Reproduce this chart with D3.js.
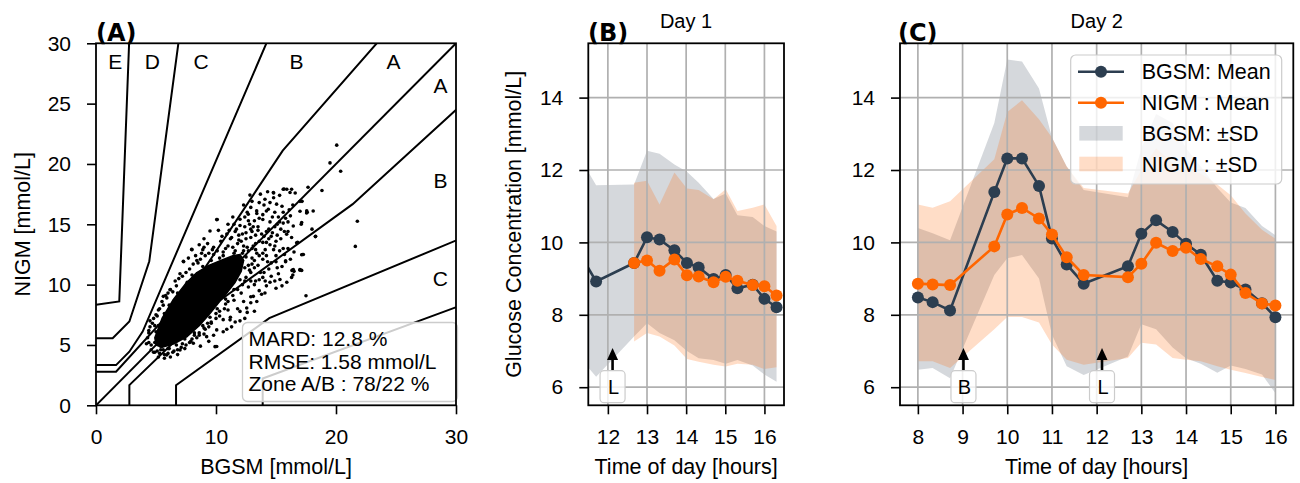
<!DOCTYPE html>
<html><head><meta charset="utf-8">
<script src="https://cdn.jsdelivr.net/npm/d3@7"></script>
<style>
body{margin:0;background:#fff}
svg{display:block}
text{font-family:"Liberation Sans",Arial,Helvetica,sans-serif}
</style>
</head><body>
<svg id="chart" width="1300" height="483"></svg>
<script>
// ---------------- DATA ----------------
// Panel A : Parkes error grid boundaries (mmol/L)
const gridLineD_up = [[0,8.33],[1.94,8.61],[2.78,30.56]];
const gridLineC_up = [[0,5.56],[1.39,5.56],[2.78,6.94],[4.44,11.94],[6.94,30.56]];
const gridLineB_up = [[0,3.33],[1.67,3.33],[2.78,4.44],[3.89,6.11],[14.44,30.56]];
const gridLineA_up = [[0,2.78],[1.67,2.78],[7.78,9.44],[15.56,21.11],[23.89,30.56]];
const gridLineIdent = [[0,0],[30,30]];
const gridLineA_lo = [[2.78,0],[2.78,1.67],[9.44,8.06],[21.39,16.67],[30.56,25]];
const gridLineB_lo = [[6.67,0],[6.67,1.67],[14.44,7.22],[30.56,13.89]];
const gridLineC_lo = [[13.89,0],[13.89,2.22],[30.56,8.33]];
const zoneLabels = ["E","D","C","B","A","A","B","C"];
const zoneLabelX = [1.6,4.7,8.75,16.7,24.8,28.7,28.7,28.7];
const zoneLabelY = [28.5,28.5,28.5,28.5,28.5,26.5,18.6,10.5];
const axisATicksX = [0,10,20,30];
const axisATicksY = [0,5,10,15,20,25,30];
// dense core of the scatter (outline of the solid region, mmol/L)
const scatterCore = [[4.9,5.6],[5.5,7.2],[6.4,8.7],[7.4,10.0],[8.4,11.0],[9.4,11.6],[10.4,12.0],[11.4,12.4],[12.0,12.5],[12.3,12.0],[12.1,11.1],[11.6,10.2],[10.9,9.3],[10.3,8.6],[9.5,7.6],[8.6,6.6],[7.6,5.7],[6.5,5.1],[5.5,4.8],[5.0,5.0]];
// individual points (BGSM, NIGM)
const scatterPoints = [
[20.06,21.56],[19.5,20.09],[20.39,19.4],[18.83,17.8],[17.67,18.07],[21.78,15.25],[21.61,13.17],[18.28,13.98],[18.0,14.6],[17.5,9.08],[10.06,4.87],[10.06,15.39],[17.0,16.08],[17.17,16.9],[16.3,17.9],[15.6,17.9],[14.8,17.6],[17.14,12.48],[17.14,11.18],[16.33,11.18],[16.4,10.8],[15.8,11.98],[18.1,16.1],[17.55,15.94],
[12.83,17.42],[14.78,17.64],[15.67,17.92],[16.17,17.64],[15.05,16.67],[14.08,17.08],[14.36,16.25],[13.39,16.11],[12.69,15.83],[12.0,15.42],[9.5,14.44],[7.97,12.92],[7.28,11.94],[6.17,9.58],[5.61,9.03],[17.56,16.11],[17.14,15.14],[16.44,14.86],[15.89,14.17],[16.72,13.47],[17.28,12.5],[17.0,11.25],[16.44,11.25],[15.33,10.42],[14.08,9.31],[13.11,9.03],[12.56,8.06],[12.0,7.78],[11.17,7.08],[10.06,6.25],[9.22,5.69],[8.11,5.14],[7.0,4.58],[5.89,4.17],[9.92,4.86],
[11.2,13.8],[11.6,14.4],[12.0,14.9],[12.3,13.2],[12.5,14.3],[12.7,15.3],[12.9,16.4],[13.1,14.8],[13.3,13.4],[13.4,15.9],[13.6,16.8],[13.8,14.2],[13.9,15.4],[14.1,12.9],[14.2,16.1],[14.4,14.6],[14.5,13.3],[14.7,15.6],[14.8,17.2],[15.0,12.4],[15.1,14.1],[15.3,15.2],[15.5,16.5],[15.6,13.0],[15.8,11.9],[16.0,14.4],[16.2,15.7],[16.5,12.7],[13.0,12.2],[12.2,12.0],[12.8,11.2],[13.5,11.6],[14.0,11.0],[14.6,11.8],[15.2,10.9],[16.8,13.5],[11.8,11.0],[12.4,10.3],[13.2,10.0],[11.5,12.6],[10.8,13.0],[10.5,14.0],[11.0,15.0],[12.6,16.0],[13.7,17.5],[14.3,17.7],[15.3,17.4],[16.4,16.6],[17.0,16.9],[16.6,17.6],[15.9,17.9],
[10.0,7.6],[10.6,7.1],[11.2,7.3],[11.8,8.0],[12.3,8.6],[12.9,9.0],[13.6,9.5],[14.2,9.9],[14.9,10.3],[9.4,6.5],[9.0,5.9],[8.4,5.6],[7.8,5.2],[7.1,4.8],[6.5,4.5],[6.0,4.3],[5.6,4.6],[10.9,6.3],[12.6,7.7],[13.4,8.6],[15.5,9.9],[16.3,10.6],[16.5,11.1],[17.0,11.2],[17.2,12.5],[18.3,14.0],[17.1,15.0],[17.6,16.0],
[4.5,6.5],[4.8,7.2],[5.2,7.9],[5.5,8.6],[5.8,9.1],[6.2,9.6],[6.6,10.3],[7.0,10.9],[7.3,11.9],[7.7,12.2],[8.0,12.9],[8.5,11.8],[9.0,13.1],[10.1,15.4],[8.8,12.6],[9.7,12.9],[10.3,12.2],[5.0,6.1],[4.3,5.6],[4.6,5.0],[5.1,4.5],[5.4,4.9],[4.2,5.1],[4.5,7.0],[4.4,6.2],[4.8,4.4],[5.2,4.0],[5.7,3.9],[4.9,6.6],[5.1,7.4],
[8.3,12.4],[8.9,12.9],[9.3,13.4],[9.8,13.1],[10.4,13.6],[10.9,14.2],[11.3,13.9],[11.7,14.6],[10.2,14.5],[9.0,13.8],[8.6,13.3],[11.9,13.7],[12.2,14.2],[12.4,14.8],[11.5,15.0],[12.8,15.0],
[13.0,14.4],[13.5,14.8],[13.9,15.8],[14.5,15.2],[14.9,16.0],[15.2,15.6],[15.6,15.1],[16.0,15.2],[16.1,16.2],[14.6,14.0],[15.0,13.6],[15.4,13.8],[14.8,12.9],[15.7,12.5],[16.2,12.1],[13.9,12.6],[14.3,11.9],[13.7,11.0],[14.6,10.7],[15.1,11.4],[13.2,12.0],[13.6,13.6],[14.0,14.0],[14.2,13.5],
[10.8,8.4],[11.5,8.7],[12.1,9.3],[12.7,9.8],[13.3,10.3],[13.9,10.6],[14.5,10.2],[11.0,7.9],[10.3,7.4],[9.6,6.8],[9.1,6.3],[8.6,5.8],[8.0,5.5],[12.9,8.5],[13.8,9.2],[15.0,9.7],[15.9,10.2],[12.4,7.2],[11.6,6.9],[10.6,6.1],[9.4,5.3],[8.7,4.9],[7.4,4.7],[6.8,4.2],[6.2,4.0],[9.8,5.8],[11.3,6.5],[12.0,7.0],[13.2,7.8],
[4.4,6.0],[4.7,6.8],[5.0,7.5],[5.3,8.0],[5.6,8.3],[5.9,8.9],[6.0,9.3],[6.4,9.4],[6.7,9.9],[6.9,10.5],[7.2,10.7],[7.5,11.0],[7.8,11.3],[8.1,11.7],[8.4,12.0],[8.7,12.1],[9.1,12.4],[9.4,12.6],[9.8,12.5],[10.1,12.8],[10.6,12.7],[11.0,13.2],[11.4,13.1],[11.8,13.4],[12.1,13.6],[12.5,13.8],[12.9,13.9],[13.3,14.1],[13.5,14.5],[13.1,13.2],[13.4,12.6],[13.0,11.7],[12.9,11.0],
[12.7,11.6],[12.5,10.6],[12.2,10.0],[11.8,9.6],[11.4,9.1],[11.0,8.6],[10.7,8.0],[10.3,7.8],[10.0,7.2],[9.6,6.9],[9.3,6.8],[9.0,6.4],[8.6,6.0],[8.2,5.8],[7.9,5.3],[7.5,5.0],[7.2,5.1],[6.8,4.6],[6.4,4.4],[6.1,4.7],[5.7,4.2],[5.3,4.3],[4.9,4.4],[4.6,4.6],[4.4,5.2],
[12.2,12.6],[12.6,13.1],[13.0,13.0],[13.3,12.9],[13.6,12.4],[13.9,13.5],[14.2,14.4],[14.4,13.8],[14.7,14.3],[14.9,14.8],[15.1,15.0],[15.4,14.6],[15.6,16.0],[15.8,15.5],[14.0,16.6],[13.6,15.5],[13.2,15.3],[12.9,14.6],[12.4,15.6],[11.9,14.1],[12.7,12.8],[13.9,12.1],[14.2,12.4],[14.9,13.2],[15.3,12.8],[15.5,11.5],[14.4,11.3],[13.6,10.4],[12.9,10.3],[13.2,11.4],[14.1,10.3],[15.0,11.9],[16.0,13.0],[16.3,13.9],[15.7,14.4],[14.5,16.8],[13.0,16.9],[12.3,16.6],[11.4,15.6],[11.1,14.5],
[5.2,6.6],[5.7,7.6],[6.1,8.3],[6.8,9.3],[7.6,10.2],[8.0,10.8],[8.9,11.5],[9.6,12.0],[10.6,12.4],[11.6,12.8],[12.3,12.8],[12.5,12.3],[12.4,11.4],
[12.0,10.4],[11.5,9.6],[10.8,8.8],[10.1,8.0],[9.5,7.3],[8.9,6.6],[8.2,6.0],[7.4,5.5],[6.7,5.0],[6.0,4.7],[5.4,4.6],[4.9,5.2]
];
const statLines = ["MARD: 12.8 %","RMSE: 1.58 mmol/L","Zone A/B : 78/22 %"];

// Panel B : Day 1
const day1TimeBGSM = [11.33,11.70,12.67,13.0,13.32,13.70,14.02,14.32,14.70,15.01,15.31,15.70,16.0,16.31];
const day1MeanBGSM = [9.6,8.92,9.43,10.14,10.08,9.78,9.43,9.31,8.99,9.10,8.73,8.83,8.44,8.21];
const day1UpBGSM   = [12.25,11.58,11.6,12.53,12.45,12.15,11.95,11.65,11.2,11.35,10.75,10.7,10.45,10.3];
const day1LoBGSM   = [6.75,6.29,7.40,7.77,7.5,7.3,7.0,6.8,6.75,6.65,6.75,6.6,6.35,6.15];
const day1TimeNIGM = [12.67,13.0,13.32,13.70,14.02,14.32,14.70,15.01,15.31,15.70,16.0,16.31];
const day1MeanNIGM = [9.43,9.50,9.22,9.53,9.09,9.06,8.90,9.05,8.94,8.82,8.79,8.53];
const day1UpNIGM   = [11.65,11.7,11.05,11.93,11.49,11.45,11.19,11.47,10.87,10.96,11.05,10.45];
const day1LoNIGM   = [7.26,7.5,7.4,7.15,6.78,6.7,6.62,6.57,6.65,6.62,6.5,6.55];
const day1Ticks = [12,13,14,15,16];
const day1Events = ["L"];
const day1EventTime = [12.12];

// Panel C : Day 2
const day2Time     = [8.0,8.33,8.72,9.71,10.0,10.33,10.71,11.0,11.33,11.71,12.70,13.0,13.33,13.70,14.0,14.33,14.70,15.0,15.33,15.70,16.0];
const day2MeanBGSM = [8.48,8.35,8.12,11.39,12.32,12.32,11.56,10.11,9.39,8.86,9.34,10.24,10.61,10.29,9.96,9.66,8.94,8.89,8.70,8.32,7.93];
const day2UpBGSM   = [10.4,10.25,10.06,13.3,15.05,15.0,14.25,12.9,12.1,11.45,11.25,12.6,13.55,13.3,12.6,12.1,11.5,11.1,10.95,10.45,10.2];
const day2LoBGSM   = [6.48,6.53,6.25,9.1,9.56,9.65,9.0,7.45,6.58,6.34,6.85,7.74,7.6,7.1,6.8,6.65,6.4,6.6,6.5,6.35,5.83];
const day2MeanNIGM = [8.86,8.84,8.82,9.89,10.77,10.95,10.66,10.22,9.59,9.10,9.04,9.41,9.99,9.76,9.85,9.54,9.34,9.11,8.60,8.31,8.26];
const day2UpNIGM   = [11.05,10.96,11.14,12.3,13.6,13.93,13.4,12.9,12.1,11.5,11.35,12.0,12.6,12.2,12.0,11.9,11.6,11.3,10.8,10.35,10.1];
const day2LoNIGM   = [6.72,6.72,6.53,7.6,7.94,7.94,7.79,7.18,6.76,6.62,6.81,7.23,7.18,6.81,6.76,6.72,6.58,6.48,6.39,6.28,6.2];
const day2Ticks = [8,9,10,11,12,13,14,15,16];
const day2Events = ["B","L"];
const day2EventTime = [9.02,12.12];

const glucoseTicks = [6,8,10,12,14];
const legendLabels = ["BGSM: Mean","NIGM : Mean","BGSM: \u00b1SD","NIGM : \u00b1SD"];

// ---------------- STYLE ----------------
const NAVY = "#2c3e50", ORANGE = "#ff6600";
const BAND_OP_GRAY = 0.2, BAND_OP_ORANGE = 0.22;
const TICK_FS = 21, LABEL_FS = 21.5;

const svg = d3.select("#chart");
const defs = svg.append("defs");

// scales
const xA = d3.scaleLinear().domain([0,30]).range([96,456]);
const yA = d3.scaleLinear().domain([0,30]).range([405.3,43.3]);
const xB = d3.scaleLinear().domain([11.5,16.5]).range([588.3,784]);
const yB = d3.scaleLinear().domain([5.5,15.5]).range([405.3,43.3]);
const xC = d3.scaleLinear().domain([7.6,16.4]).range([900,1293.3]);
const yC = d3.scaleLinear().domain([5.5,15.5]).range([405.3,43.3]);

function clip(id, x, y){
  const [x0,x1]=x.range(), [y0,y1]=y.range();
  defs.append("clipPath").attr("id",id).append("rect")
    .attr("x",x0).attr("y",y1).attr("width",x1-x0).attr("height",y0-y1);
  return "url(#"+id+")";
}

function axes(x, y, xt, yt){
  const g = svg.append("g");
  const [x0,x1]=x.range(), [y0,y1]=y.range();
  const gb = g.append("g").attr("transform",`translate(0,${y0})`)
    .call(d3.axisBottom(x).tickValues(xt).tickSize(9).tickPadding(15).tickSizeOuter(0).tickFormat(d3.format("d")));
  const gl = g.append("g").attr("transform",`translate(${x0},0)`)
    .call(d3.axisLeft(y).tickValues(yt).tickSize(9).tickPadding(16).tickSizeOuter(0).tickFormat(d3.format("d")));
  [gb,gl].forEach(a=>{
    a.select(".domain").remove();
    a.attr("font-family",null).attr("font-size",TICK_FS);
    a.selectAll("line").attr("stroke","#000").attr("stroke-width",1.6);
    a.selectAll("text").attr("fill","#000");
  });
  g.append("rect").attr("x",x0).attr("y",y1).attr("width",x1-x0).attr("height",y0-y1)
    .attr("fill","none").attr("stroke","#000").attr("stroke-width",1.8);
}

function gridLines(x, y, xt, yt){
  const g = svg.append("g").attr("stroke","#b0b0b0").attr("stroke-width",1.7);
  const [x0,x1]=x.range(), [y0,y1]=y.range();
  g.selectAll(".v").data(xt).join("line").attr("x1",d=>x(d)).attr("x2",d=>x(d)).attr("y1",y0).attr("y2",y1);
  g.selectAll(".h").data(yt).join("line").attr("x1",x0).attr("x2",x1).attr("y1",d=>y(d)).attr("y2",d=>y(d));
}

function xlabel(x, text){
  const [x0,x1]=x.range();
  svg.append("text").attr("x",(x0+x1)/2).attr("y",474).attr("text-anchor","middle")
    .attr("font-size",LABEL_FS).text(text);
}
function ylabel(cx, y, text){
  const [y0,y1]=y.range();
  svg.append("text").attr("transform",`translate(${cx},${(y0+y1)/2}) rotate(-90)`)
    .attr("text-anchor","middle").attr("dy","0.35em").attr("font-size",LABEL_FS).text(text);
}
function panelTag(px, text){
  svg.append("text").attr("x",px).attr("y",41).attr("font-size",24).attr("font-weight","bold")
    .style("font-family","'DejaVu Sans',sans-serif").text(text);
}

// ---------------- PANEL A ----------------
const clipA = clip("clipA", xA, yA);
const lineA = d3.line().x(d=>xA(d[0])).y(d=>yA(d[1]));
const gA = svg.append("g").attr("clip-path",clipA);
gA.append("path").attr("d",lineA(scatterCore)+"Z").attr("fill","#000").attr("stroke","#000").attr("stroke-width",1.5).attr("stroke-linejoin","round");
gA.selectAll("circle.s").data(scatterPoints).join("circle")
  .attr("cx",d=>xA(d[0])).attr("cy",d=>yA(d[1])).attr("r",1.8).attr("fill","#000");
[gridLineD_up,gridLineC_up,gridLineB_up,gridLineA_up,gridLineIdent,gridLineA_lo,gridLineB_lo,gridLineC_lo].forEach(l=>{
  gA.append("path").attr("d",lineA(l)).attr("fill","none").attr("stroke","#000").attr("stroke-width",2);
});
zoneLabels.forEach((t,i)=>{
  svg.append("text").attr("x",xA(zoneLabelX[i])).attr("y",yA(zoneLabelY[i])).attr("dy","0.36em")
    .attr("text-anchor","middle").attr("font-size",21).text(t);
});
// stats box
svg.append("rect").attr("x",242.5).attr("y",322.5).attr("width",215).attr("height",79).attr("rx",5)
  .attr("fill","#fff").attr("fill-opacity",0.8).attr("stroke","#cccccc").attr("stroke-width",1.3);
statLines.forEach((t,i)=>{
  svg.append("text").attr("x",248.5).attr("y",346+i*22.5).attr("font-size",21).text(t);
});
axes(xA, yA, axisATicksX, axisATicksY);
xlabel(xA, "BGSM [mmol/L]");
ylabel(22, yA, "NIGM [mmol/L]");
panelTag(96, "(A)");

// ---------------- PANELS B/C helpers ----------------
function band(g, x, y, t, lo, up, color, op){
  const area = d3.area().x((d,i)=>x(t[i])).y0((d,i)=>y(lo[i])).y1((d,i)=>y(up[i]));
  g.append("path").attr("d",area(t)).attr("fill",color).attr("fill-opacity",op);
}
function meanLine(g, x, y, t, m, color){
  const line = d3.line().x((d,i)=>x(t[i])).y((d,i)=>y(m[i]));
  g.append("path").attr("d",line(t)).attr("fill","none").attr("stroke",color).attr("stroke-width",2.6);
  g.selectAll(null).data(t).join("circle").attr("cx",(d,i)=>x(t[i])).attr("cy",(d,i)=>y(m[i]))
    .attr("r",6).attr("fill",color);
}
function events(x, y, labels, times){
  labels.forEach((lab,i)=>{
    const cx = x(times[i]);
    const tip = y(7.08), boxTop = 370.7;
    svg.append("line").attr("x1",cx).attr("x2",cx).attr("y1",boxTop).attr("y2",tip+9)
      .attr("stroke","#000").attr("stroke-width",2.6);
    svg.append("path").attr("d",`M${cx},${tip} L${cx-5.5},${tip+12} L${cx+5.5},${tip+12} Z`).attr("fill","#000");
    svg.append("rect").attr("x",cx-12.5).attr("y",boxTop).attr("width",25).attr("height",32).attr("rx",4)
      .attr("fill","#fff").attr("fill-opacity",0.8).attr("stroke","#cccccc").attr("stroke-width",1.2);
    svg.append("text").attr("x",cx+1).attr("y",y(6.02)).attr("dy","0.36em").attr("text-anchor","middle")
      .attr("font-size",20).text(lab);
  });
}

// ---------------- PANEL B ----------------
const clipB = clip("clipB", xB, yB);
const gB = svg.append("g").attr("clip-path",clipB);
band(gB, xB, yB, day1TimeBGSM, day1LoBGSM, day1UpBGSM, NAVY, BAND_OP_GRAY);
band(gB, xB, yB, day1TimeNIGM, day1LoNIGM, day1UpNIGM, ORANGE, BAND_OP_ORANGE);
gridLines(xB, yB, day1Ticks, glucoseTicks);
const gB2 = svg.append("g").attr("clip-path",clipB);
meanLine(gB2, xB, yB, day1TimeBGSM, day1MeanBGSM, NAVY);
meanLine(gB2, xB, yB, day1TimeNIGM, day1MeanNIGM, ORANGE);
events(xB, yB, day1Events, day1EventTime);
axes(xB, yB, day1Ticks, glucoseTicks);
xlabel(xB, "Time of day [hours]");
ylabel(513, yB, "Glucose Concentration [mmol/L]");
svg.append("text").attr("x",686).attr("y",28).attr("text-anchor","middle").attr("font-size",20).text("Day 1");
panelTag(588, "(B)");

// ---------------- PANEL C ----------------
const clipC = clip("clipC", xC, yC);
const gC = svg.append("g").attr("clip-path",clipC);
band(gC, xC, yC, day2Time, day2LoBGSM, day2UpBGSM, NAVY, BAND_OP_GRAY);
band(gC, xC, yC, day2Time, day2LoNIGM, day2UpNIGM, ORANGE, BAND_OP_ORANGE);
gridLines(xC, yC, day2Ticks, glucoseTicks);
const gC2 = svg.append("g").attr("clip-path",clipC);
meanLine(gC2, xC, yC, day2Time, day2MeanBGSM, NAVY);
meanLine(gC2, xC, yC, day2Time, day2MeanNIGM, ORANGE);
events(xC, yC, day2Events, day2EventTime);

// legend
const lg = svg.append("g");
lg.append("rect").attr("x",1070.7).attr("y",55).attr("width",211).attr("height",129).attr("rx",5)
  .attr("fill","#fff").attr("fill-opacity",0.8).attr("stroke","#cccccc").attr("stroke-width",1.2);
const rowY = [71.7,102.7,133.3,164];
const legColors = [NAVY,ORANGE,NAVY,ORANGE];
const legOps = [1,1,BAND_OP_GRAY,BAND_OP_ORANGE];
legendLabels.forEach((t,i)=>{
  if(i<2){
    lg.append("line").attr("x1",1078).attr("x2",1124).attr("y1",rowY[i]).attr("y2",rowY[i])
      .attr("stroke",legColors[i]).attr("stroke-width",2.6);
    lg.append("circle").attr("cx",1101).attr("cy",rowY[i]).attr("r",6).attr("fill",legColors[i]);
  } else {
    lg.append("rect").attr("x",1079.3).attr("y",rowY[i]-7.3).attr("width",43.4).attr("height",14.6)
      .attr("fill",legColors[i]).attr("fill-opacity",legOps[i]);
  }
  lg.append("text").attr("x",1141.7).attr("y",rowY[i]).attr("dy","0.36em").attr("font-size",21.5).text(t);
});
axes(xC, yC, day2Ticks, glucoseTicks);
xlabel(xC, "Time of day [hours]");
svg.append("text").attr("x",1096.7).attr("y",28).attr("text-anchor","middle").attr("font-size",20).text("Day 2");
panelTag(898, "(C)");
</script>
</body></html>
